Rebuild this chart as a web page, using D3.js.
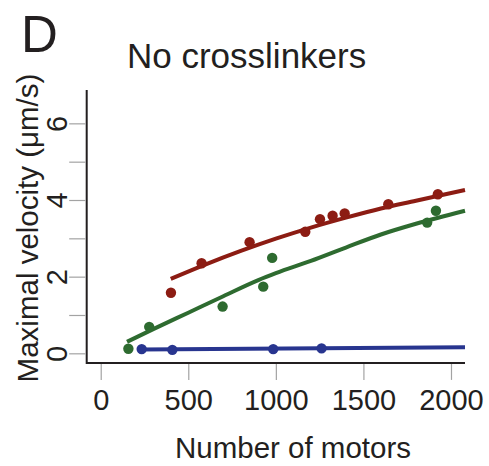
<!DOCTYPE html>
<html>
<head>
<meta charset="utf-8">
<script src="https://cdn.jsdelivr.net/npm/d3@7"></script>
<style>
  body { margin: 0; background: #fff; }
  svg text { font-family: "Liberation Sans", Arial, Helvetica, sans-serif; fill: #231f20; }
</style>
</head>
<body>
<svg width="489" height="466"></svg>
<script>
// measured points (motors, µm/s)
const redX = [401, 576, 850, 1168, 1252, 1324, 1393, 1642, 1925];
const redY = [1.58, 2.35, 2.90, 3.17, 3.50, 3.59, 3.65, 3.89, 4.15];
const greenX = [158, 277, 696, 928, 979, 1864, 1914];
const greenY = [0.12, 0.69, 1.22, 1.74, 2.49, 3.41, 3.72];
const blueX = [234, 409, 985, 1261];
const blueY = [0.11, 0.09, 0.11, 0.13];

// fitted curves
const redFitX = [400, 600, 800, 1000, 1200, 1400, 1600, 1800, 2080];
const redFitY = [1.94, 2.32, 2.67, 2.99, 3.28, 3.54, 3.78, 3.98, 4.26];
const greenFitX = [150, 300, 500, 700, 900, 1000, 1200, 1400, 1600, 1800, 2080];
const greenFitY = [0.30, 0.63, 1.06, 1.49, 1.91, 2.09, 2.41, 2.76, 3.10, 3.38, 3.72];
const blueFitX = [230, 2080];
const blueFitY = [0.10, 0.16];

const xTicks = [0, 500, 1000, 1500, 2000];
const yTicks = [0, 1, 2, 3, 4, 5, 6];

const svg = d3.select("svg");

const x = d3.scaleLinear().domain([-80, 2080]).range([86.7, 465]);
const y = d3.scaleLinear().domain([-0.25, 6.87]).range([362.9, 90]);

const series = [
  { color: "#8c1c13", px: redX, py: redY, fx: redFitX, fy: redFitY },
  { color: "#2e6b30", px: greenX, py: greenY, fx: greenFitX, fy: greenFitY },
  { color: "#28358f", px: blueX, py: blueY, fx: blueFitX, fy: blueFitY }
];

// ticks (grey, detached from the black axis lines)
const xAxis = svg.append("g")
  .attr("transform", `translate(0,${y(-0.25) + 1})`)
  .call(d3.axisBottom(x).tickValues(xTicks).tickSize(16).tickPadding(0)
    .tickFormat(d3.format("d")));
xAxis.select(".domain").remove();
xAxis.selectAll(".tick line").attr("stroke", "#a3a3a3").attr("stroke-width", 1.2);
xAxis.selectAll(".tick text")
  .attr("y", 46).attr("dy", 0)
  .style("font-size", "29px");

const yAxis = svg.append("g")
  .attr("transform", `translate(${x(-80) - 1.5},0)`)
  .call(d3.axisLeft(y).tickValues(yTicks).tickSize(16)
    .tickFormat(d => d % 2 === 0 ? d : ""));
yAxis.select(".domain").remove();
yAxis.selectAll(".tick line").attr("stroke", "#a3a3a3").attr("stroke-width", 1.2);
yAxis.selectAll(".tick text")
  .attr("transform", "rotate(-90)")
  .attr("x", 0).attr("y", -18).attr("dy", 0)
  .attr("text-anchor", "middle")
  .style("font-size", "29px");

// L-shaped axis lines
svg.append("path")
  .attr("d", `M${x(-80)},${y(6.87)}V${y(-0.25)}H${x(2080)}`)
  .attr("fill", "none")
  .attr("stroke", "#231f20")
  .attr("stroke-width", 2);

// fit lines and points
const line = d3.line()
  .x(d => x(d[0]))
  .y(d => y(d[1]))
  .curve(d3.curveMonotoneX);

series.forEach(s => {
  svg.append("path")
    .datum(s.fx.map((v, i) => [v, s.fy[i]]))
    .attr("d", line)
    .attr("fill", "none")
    .attr("stroke", s.color)
    .attr("stroke-width", 4);

  svg.append("g")
    .selectAll("circle")
    .data(s.px.map((v, i) => [v, s.py[i]]))
    .enter().append("circle")
    .attr("cx", d => x(d[0]))
    .attr("cy", d => y(d[1]))
    .attr("r", 5.2)
    .attr("fill", s.color);
});

// texts
svg.append("text")
  .attr("x", 21).attr("y", 52)
  .style("font-size", "51px")
  .text("D");

svg.append("text")
  .attr("x", 127).attr("y", 68)
  .style("font-size", "35px")
  .text("No crosslinkers");

svg.append("text")
  .attr("x", 293).attr("y", 458)
  .attr("text-anchor", "middle")
  .style("font-size", "29.5px")
  .text("Number of motors");

svg.append("text")
  .attr("transform", "translate(38,228) rotate(-90)")
  .attr("text-anchor", "middle")
  .style("font-size", "29.5px")
  .text("Maximal velocity (μm/s)");
</script>
</body>
</html>
